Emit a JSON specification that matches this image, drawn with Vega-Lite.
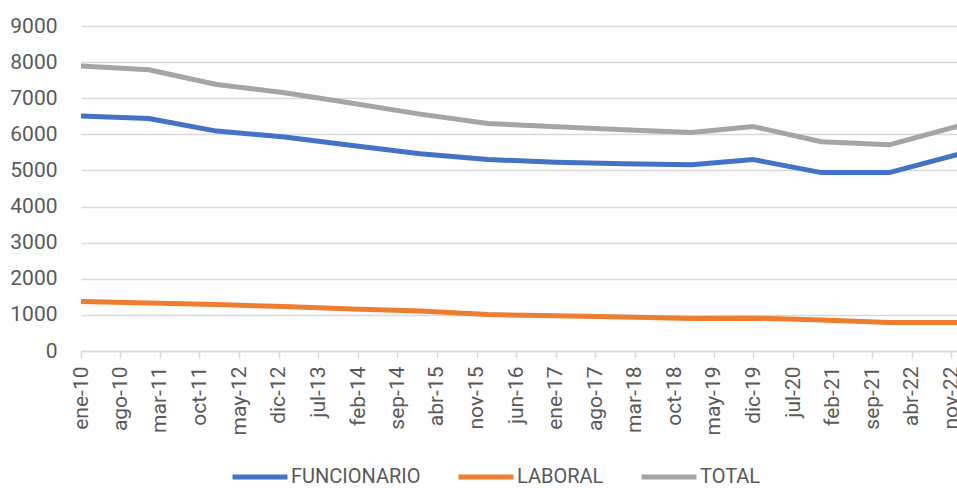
{
  "$schema": "https://vega.github.io/schema/vega-lite/v6.json",
  "autosize": {"type": "none"},
  "padding": {"left": 81, "top": 26, "right": 0, "bottom": 137},
  "width": 876,
  "height": 325,
  "background": "white",
  "config": {
    "view": {"stroke": null},
    "font": "Roboto"
  },
  "data": {
    "values": [
      {"fecha": "2010-01-01", "serie": "FUNCIONARIO", "valor": 6510},
      {"fecha": "2011-01-01", "serie": "FUNCIONARIO", "valor": 6440},
      {"fecha": "2012-01-01", "serie": "FUNCIONARIO", "valor": 6090},
      {"fecha": "2013-01-01", "serie": "FUNCIONARIO", "valor": 5925},
      {"fecha": "2014-01-01", "serie": "FUNCIONARIO", "valor": 5690},
      {"fecha": "2015-01-01", "serie": "FUNCIONARIO", "valor": 5460},
      {"fecha": "2016-01-01", "serie": "FUNCIONARIO", "valor": 5300},
      {"fecha": "2017-01-01", "serie": "FUNCIONARIO", "valor": 5230},
      {"fecha": "2018-01-01", "serie": "FUNCIONARIO", "valor": 5185},
      {"fecha": "2019-01-01", "serie": "FUNCIONARIO", "valor": 5160},
      {"fecha": "2019-12-01", "serie": "FUNCIONARIO", "valor": 5300},
      {"fecha": "2020-12-01", "serie": "FUNCIONARIO", "valor": 4940},
      {"fecha": "2021-12-01", "serie": "FUNCIONARIO", "valor": 4940},
      {"fecha": "2022-12-01", "serie": "FUNCIONARIO", "valor": 5440},
      {"fecha": "2010-01-01", "serie": "LABORAL", "valor": 1370},
      {"fecha": "2011-01-01", "serie": "LABORAL", "valor": 1330},
      {"fecha": "2012-01-01", "serie": "LABORAL", "valor": 1285},
      {"fecha": "2013-01-01", "serie": "LABORAL", "valor": 1230},
      {"fecha": "2014-01-01", "serie": "LABORAL", "valor": 1165},
      {"fecha": "2015-01-01", "serie": "LABORAL", "valor": 1110},
      {"fecha": "2016-01-01", "serie": "LABORAL", "valor": 1010},
      {"fecha": "2017-01-01", "serie": "LABORAL", "valor": 975},
      {"fecha": "2018-01-01", "serie": "LABORAL", "valor": 940},
      {"fecha": "2019-01-01", "serie": "LABORAL", "valor": 900},
      {"fecha": "2019-12-01", "serie": "LABORAL", "valor": 910},
      {"fecha": "2020-12-01", "serie": "LABORAL", "valor": 860},
      {"fecha": "2021-12-01", "serie": "LABORAL", "valor": 790},
      {"fecha": "2022-12-01", "serie": "LABORAL", "valor": 790},
      {"fecha": "2010-01-01", "serie": "TOTAL", "valor": 7895},
      {"fecha": "2011-01-01", "serie": "TOTAL", "valor": 7790},
      {"fecha": "2012-01-01", "serie": "TOTAL", "valor": 7380},
      {"fecha": "2013-01-01", "serie": "TOTAL", "valor": 7150},
      {"fecha": "2014-01-01", "serie": "TOTAL", "valor": 6860},
      {"fecha": "2015-01-01", "serie": "TOTAL", "valor": 6560},
      {"fecha": "2016-01-01", "serie": "TOTAL", "valor": 6300},
      {"fecha": "2017-01-01", "serie": "TOTAL", "valor": 6210},
      {"fecha": "2018-01-01", "serie": "TOTAL", "valor": 6130},
      {"fecha": "2019-01-01", "serie": "TOTAL", "valor": 6050},
      {"fecha": "2019-12-01", "serie": "TOTAL", "valor": 6215},
      {"fecha": "2020-12-01", "serie": "TOTAL", "valor": 5795},
      {"fecha": "2021-12-01", "serie": "TOTAL", "valor": 5710},
      {"fecha": "2022-12-01", "serie": "TOTAL", "valor": 6220}
    ]
  },
  "mark": {"type": "line", "strokeWidth": 5, "strokeCap": "round", "strokeJoin": "round", "clip": true},
  "encoding": {
    "x": {
      "field": "fecha",
      "type": "temporal",
      "scale": {
        "type": "utc",
        "nice": false,
        "domain": [
          {"year": 2010, "month": 1, "date": 1, "utc": true},
          {"year": 2022, "month": 12, "date": 1, "utc": true}
        ]
      },
      "axis": {
        "title": null,
        "grid": false,
        "domain": true,
        "domainColor": "#d9d9d9",
        "domainWidth": 1.5,
        "ticks": true,
        "tickColor": "#d9d9d9",
        "tickWidth": 1.5,
        "tickSize": 7,
        "labelAngle": 270,
        "labelPadding": 8,
        "labelFlush": false,
        "labelOverlap": false,
        "labelFont": "Roboto",
        "labelFontSize": 21,
        "labelColor": "#595959",
        "values": [
          {"year": 2010, "month": 1, "date": 1, "utc": true},
          {"year": 2010, "month": 8, "date": 1, "utc": true},
          {"year": 2011, "month": 3, "date": 1, "utc": true},
          {"year": 2011, "month": 10, "date": 1, "utc": true},
          {"year": 2012, "month": 5, "date": 1, "utc": true},
          {"year": 2012, "month": 12, "date": 1, "utc": true},
          {"year": 2013, "month": 7, "date": 1, "utc": true},
          {"year": 2014, "month": 2, "date": 1, "utc": true},
          {"year": 2014, "month": 9, "date": 1, "utc": true},
          {"year": 2015, "month": 4, "date": 1, "utc": true},
          {"year": 2015, "month": 11, "date": 1, "utc": true},
          {"year": 2016, "month": 6, "date": 1, "utc": true},
          {"year": 2017, "month": 1, "date": 1, "utc": true},
          {"year": 2017, "month": 8, "date": 1, "utc": true},
          {"year": 2018, "month": 3, "date": 1, "utc": true},
          {"year": 2018, "month": 10, "date": 1, "utc": true},
          {"year": 2019, "month": 5, "date": 1, "utc": true},
          {"year": 2019, "month": 12, "date": 1, "utc": true},
          {"year": 2020, "month": 7, "date": 1, "utc": true},
          {"year": 2021, "month": 2, "date": 1, "utc": true},
          {"year": 2021, "month": 9, "date": 1, "utc": true},
          {"year": 2022, "month": 4, "date": 1, "utc": true},
          {"year": 2022, "month": 11, "date": 1, "utc": true}
        ],
        "labelExpr": "['ene','feb','mar','abr','may','jun','jul','ago','sep','oct','nov','dic'][utcmonth(datum.value)] + '-' + utcFormat(datum.value, '%y')"
      }
    },
    "y": {
      "field": "valor",
      "type": "quantitative",
      "scale": {"domain": [0, 9000], "nice": false},
      "axis": {
        "title": null,
        "values": [0, 1000, 2000, 3000, 4000, 5000, 6000, 7000, 8000, 9000],
        "format": "d",
        "grid": true,
        "gridColor": "#d9d9d9",
        "gridWidth": 1.5,
        "domain": false,
        "ticks": false,
        "labelPadding": 24,
        "labelFont": "Roboto",
        "labelFontSize": 21,
        "labelColor": "#595959"
      }
    },
    "color": {
      "field": "serie",
      "type": "nominal",
      "scale": {
        "domain": ["FUNCIONARIO", "LABORAL", "TOTAL"],
        "range": ["#4472C4", "#ED7D31", "#A5A5A5"]
      },
      "legend": {
        "title": null,
        "orient": "none",
        "legendX": 149,
        "legendY": 421,
        "direction": "horizontal",
        "symbolType": "stroke",
        "symbolSize": 3025,
        "symbolStrokeWidth": 5,
        "labelFont": "Roboto",
        "labelFontSize": 20,
        "labelColor": "#595959",
        "labelOffset": 1,
        "columnPadding": 27
      }
    }
  }
}
